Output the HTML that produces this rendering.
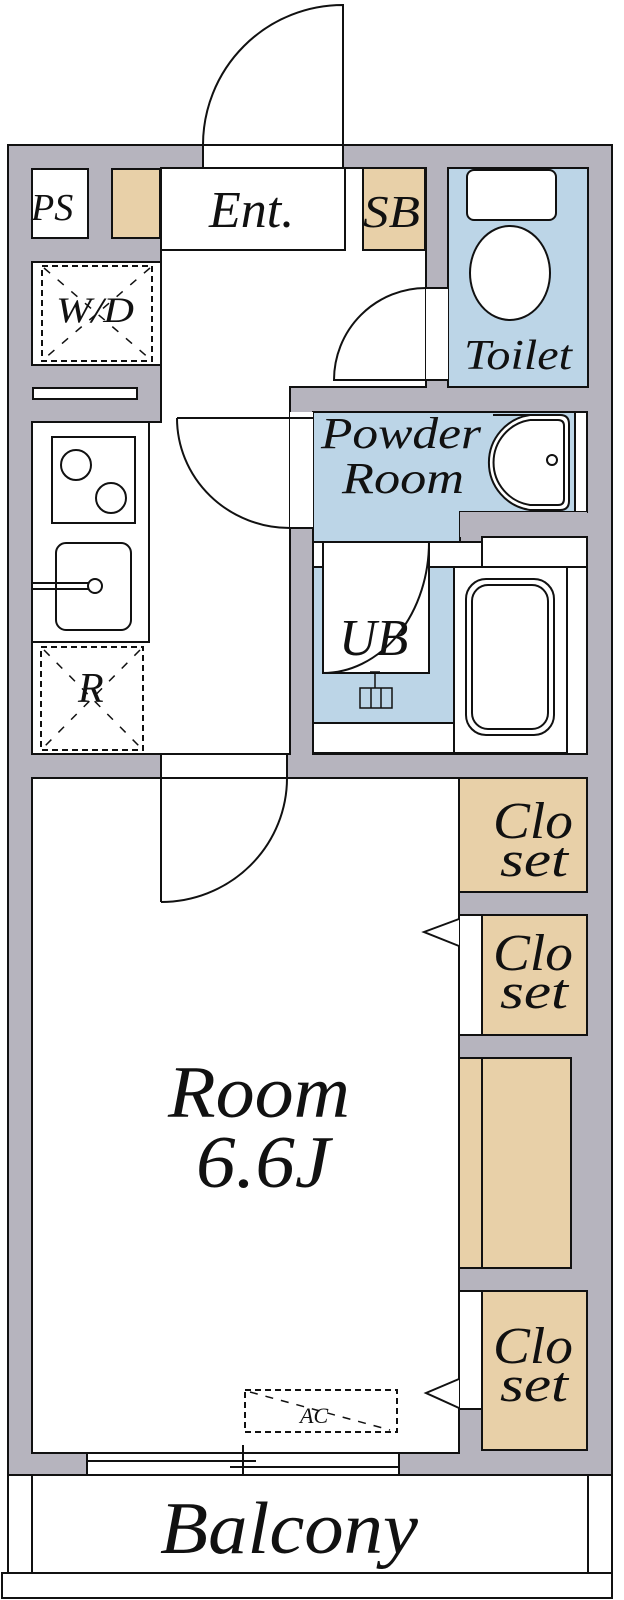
<!DOCTYPE html>
<html><head><meta charset="utf-8"><style>
html,body{margin:0;padding:0;background:#fff;}
svg{display:block;}
text{font-family:"Liberation Serif",serif;font-style:italic;fill:#111;}
</style></head><body>
<svg width="624" height="1600" viewBox="0 0 624 1600" xmlns="http://www.w3.org/2000/svg">
<g stroke="#111" stroke-width="2" fill="none">
<!-- outer wall -->
<rect x="8" y="145" width="604" height="1330" fill="#b6b4be"/>
<!-- entrance door -->
<rect x="203" y="145" width="140" height="23" fill="#fff"/>
<path d="M203 145 A140 140 0 0 1 343 5 L343 145"/>
<!-- PS -->
<rect x="32" y="169" width="56" height="69" fill="#fff"/>
<rect x="112" y="169" width="48" height="69" fill="#e8d0a8"/>
<!-- hall polygon -->
<path d="M161 168 L426 168 L426 387 L290 387 L290 754 L32 754 L32 422 L161 422 Z" fill="#fff"/>
<rect x="161" y="168" width="184" height="82" fill="#fff"/>
<rect x="363" y="168" width="62" height="82" fill="#e8d0a8"/>
<!-- toilet -->
<rect x="448" y="168" width="140" height="219" fill="#bcd5e7"/>
<rect x="467" y="170" width="89" height="50" rx="7" fill="#fff"/>
<ellipse cx="510" cy="273" rx="40" ry="47" fill="#fff"/>
<rect x="426" y="288" width="22" height="92" fill="#fff" stroke="none"/>
<path d="M426 288 L448 288 M426 288 A92 92 0 0 0 334 380 L448 380"/>
<!-- W/D -->
<rect x="32" y="262" width="129" height="103" fill="#fff"/>
<rect x="42" y="266" width="110" height="95" stroke-dasharray="6 4"/>
<path d="M44 268 L150 359 M150 268 L44 359" stroke-dasharray="8 10" stroke-width="1.5"/>
<rect x="33" y="388" width="104" height="11" fill="#fff"/>
<!-- kitchen -->
<rect x="32" y="422" width="117" height="220" fill="#fff"/>
<rect x="52" y="437" width="83" height="86" fill="#fff"/>
<circle cx="76" cy="465" r="15"/>
<circle cx="111" cy="498" r="15"/>
<rect x="56" y="543" width="75" height="87" rx="10" fill="#fff"/>
<path d="M33 583 L90 583 M33 589 L90 589"/>
<circle cx="95" cy="586" r="7" fill="#fff"/>
<!-- R -->
<rect x="41" y="647" width="102" height="103" stroke-dasharray="6 4"/>
<path d="M44 650 L140 747 M140 650 L44 747" stroke-dasharray="8 10" stroke-width="1.5"/>
<!-- powder room -->
<path d="M313 412 L587 412 L587 512 L460 512 L460 542 L313 542 Z" fill="#bcd5e7"/>
<rect x="575" y="412" width="12" height="100" fill="#fff"/>
<path d="M493 415 L560 415 Q569 415 569 424 L569 501 Q569 510 560 510 L530 510 A48 48 0 0 1 530 415 Z" fill="#fff"/>
<path d="M530 420 L558 420 Q564 420 564 426 L564 499 Q564 505 558 505 L530 505 A43 43 0 0 1 530 420" />
<circle cx="552" cy="460" r="5"/>
<rect x="290" y="412" width="23" height="116" fill="#fff" stroke="none"/>
<path d="M177 418 L313 418 M177 418 A113 110 0 0 0 290 528 L313 528"/>
<!-- UB area -->
<rect x="313" y="542" width="274" height="212" fill="#fff"/>
<rect x="460" y="512" width="127" height="25" fill="#b6b4be" stroke="none"/>
<rect x="482" y="537" width="105" height="30" fill="#fff"/>
<rect x="313" y="567" width="141" height="156" fill="#bcd5e7"/>
<rect x="313" y="723" width="141" height="30" fill="#fff"/>
<rect x="323" y="542" width="106" height="131" fill="#fff"/>
<path d="M429 542 A106 131 0 0 1 323 673"/>
<rect x="454" y="567" width="113" height="186" fill="#fff"/>
<rect x="466" y="579" width="88" height="156" rx="20" fill="#fff"/>
<rect x="472" y="585" width="76" height="144" rx="16"/>
<path d="M375 672 L375 688 M370 672 L380 672 M360 688 L392 688 L392 708 L360 708 Z M371 688 L371 708 M381 688 L381 708" stroke-width="1.5"/>
<!-- room -->
<rect x="32" y="778" width="427" height="675" fill="#fff"/>
<rect x="161" y="754" width="126" height="24" fill="#fff"/>
<path d="M161 754 L161 902 M161 754 L287 754 M287 778 A126 124 0 0 1 161 902"/>
<!-- closets -->
<rect x="459" y="778" width="128" height="114" fill="#e8d0a8"/>
<rect x="459" y="915" width="23" height="120" fill="#fff"/>
<rect x="482" y="915" width="105" height="120" fill="#e8d0a8"/>
<path d="M459 919 L424 932 L459 946" fill="#fff"/>
<rect x="459" y="1058" width="112" height="210" fill="#e8d0a8"/>
<path d="M482 1058 L482 1268"/>
<rect x="459" y="1291" width="23" height="118" fill="#fff"/>
<rect x="482" y="1291" width="105" height="159" fill="#e8d0a8"/>
<path d="M459 1379 L426 1393 L459 1408" fill="#fff"/>
<!-- AC -->
<rect x="245" y="1390" width="152" height="42" stroke-dasharray="6 4"/>
<path d="M250 1392 L390 1430" stroke-dasharray="8 8" stroke-width="1.5"/>
<!-- window -->
<rect x="87" y="1453" width="312" height="22" fill="#fff"/>
<path d="M87 1461 L243 1461 M243 1467 L399 1467 M243 1445 L243 1482 M230 1461 L256 1461 M230 1467 L256 1467"/>
<!-- balcony -->
<rect x="8" y="1475" width="604" height="98" fill="#fff"/>
<path d="M32 1475 L32 1573 M588 1475 L588 1573"/>
<rect x="2" y="1573" width="610" height="25" fill="#fff"/>
</g>
<g>
<text x="31" y="220" font-size="38">PS</text>
<text x="209" y="227" font-size="52">Ent.</text>
<text x="363" y="227" font-size="46" textLength="57" lengthAdjust="spacingAndGlyphs">SB</text>
<text x="464" y="369" font-size="42" textLength="108" lengthAdjust="spacingAndGlyphs">Toilet</text>
<text x="56" y="322" font-size="36" fill="#333" textLength="78" lengthAdjust="spacingAndGlyphs">W/D</text>
<text x="78" y="702" font-size="42">R</text>
<text x="321" y="448" font-size="44" textLength="160" lengthAdjust="spacingAndGlyphs">Powder</text>
<text x="342" y="493" font-size="44" textLength="122" lengthAdjust="spacingAndGlyphs">Room</text>
<text x="339" y="655" font-size="52">UB</text>
<text x="493" y="838" font-size="52" textLength="80" lengthAdjust="spacingAndGlyphs">Clo</text>
<text x="500" y="876" font-size="50" textLength="68" lengthAdjust="spacingAndGlyphs">set</text>
<text x="493" y="970" font-size="52" textLength="80" lengthAdjust="spacingAndGlyphs">Clo</text>
<text x="500" y="1008" font-size="50" textLength="68" lengthAdjust="spacingAndGlyphs">set</text>
<text x="493" y="1363" font-size="52" textLength="80" lengthAdjust="spacingAndGlyphs">Clo</text>
<text x="500" y="1401" font-size="50" textLength="68" lengthAdjust="spacingAndGlyphs">set</text>
<text x="168" y="1117" font-size="74" textLength="182" lengthAdjust="spacingAndGlyphs">Room</text>
<text x="196" y="1187" font-size="74" textLength="134" lengthAdjust="spacingAndGlyphs">6.6J</text>
<text x="300" y="1423" font-size="22">AC</text>
<text x="160" y="1553" font-size="74" textLength="258" lengthAdjust="spacingAndGlyphs">Balcony</text>
</g>
</svg>
</body></html>
